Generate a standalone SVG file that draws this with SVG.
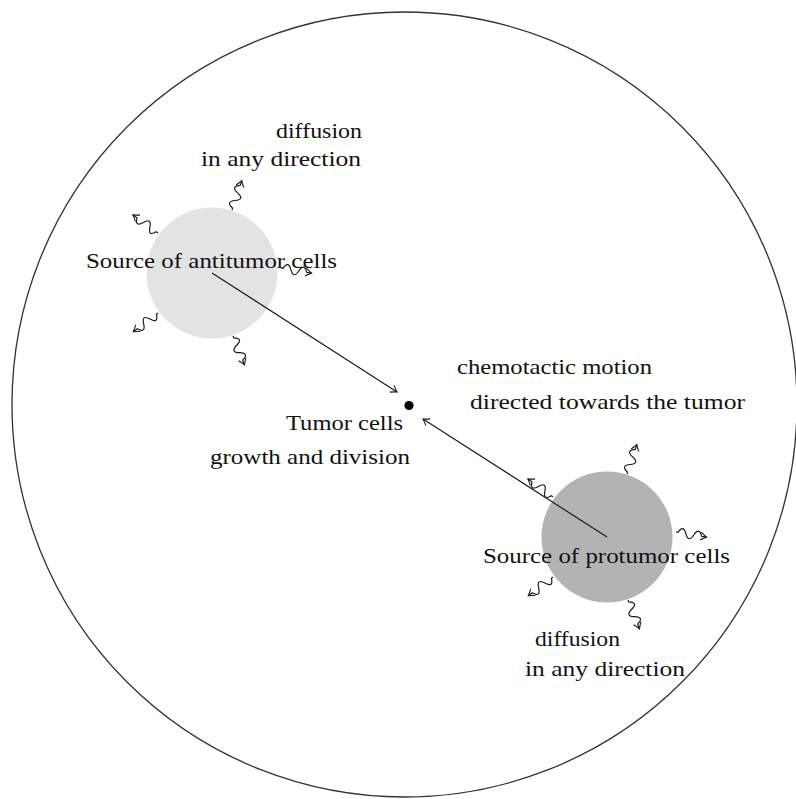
<svg xmlns="http://www.w3.org/2000/svg" xmlns:xlink="http://www.w3.org/1999/xlink" width="796" height="799" viewBox="0 0 796 799">
<style>
.lbl{font-family:"Liberation Serif","Times New Roman",serif;font-size:22px;fill:#111}
.ln{fill:none;stroke:#1a1a1a;stroke-width:1.2}
.sn{fill:none;stroke:#1a1a1a;stroke-width:1.2}
</style>
<defs>
<marker id="tip" viewBox="-7 -5 9 10" refX="0" refY="0" markerWidth="9" markerHeight="10" markerUnits="userSpaceOnUse" orient="auto" overflow="visible">
<path d="M-6,-4 Q-2,-1 0,0 Q-2,1 -6,4" fill="none" stroke="#1a1a1a" stroke-width="1.1"/>
</marker>
<path id="snake" class="sn" d="M0,0 L2,0 q4,-9 8,0 t8,0 t8,0 L31,0" marker-end="url(#tip)"/>
<g id="spray">
<use xlink:href="#snake" transform="translate(20,-63) rotate(-71.6)"/>
<use xlink:href="#snake" transform="translate(-54,-40) rotate(-144.2)"/>
<use xlink:href="#snake" transform="translate(69,-5) rotate(9.5)"/>
<use xlink:href="#snake" transform="translate(-54,40) rotate(142.8)"/>
<use xlink:href="#snake" transform="translate(21,63) rotate(68.2)"/>
</g>
</defs>
<rect width="796" height="799" fill="#ffffff"/>
<g id="domain">
<circle cx="404.5" cy="404.5" r="392.5" fill="none" stroke="#333" stroke-width="1.3"/>
</g>
<g id="antitumor">
<circle cx="212" cy="273" r="65.5" fill="#e3e3e3"/>
<use xlink:href="#spray" transform="translate(212,273)"/>
<text class="lbl" x="276" y="138" textLength="86" lengthAdjust="spacingAndGlyphs">diffusion</text>
<text class="lbl" x="201" y="166" textLength="160" lengthAdjust="spacingAndGlyphs">in any direction</text>
<text class="lbl" x="86" y="268" textLength="251" lengthAdjust="spacingAndGlyphs">Source of antitumor cells</text>
</g>
<g id="protumor">
<circle cx="607" cy="537" r="65.5" fill="#b3b3b3"/>
<use xlink:href="#spray" transform="translate(607,537)"/>
<text class="lbl" x="483" y="563" textLength="247" lengthAdjust="spacingAndGlyphs">Source of protumor cells</text>
<text class="lbl" x="535" y="646" textLength="85" lengthAdjust="spacingAndGlyphs">diffusion</text>
<text class="lbl" x="525" y="676" textLength="160" lengthAdjust="spacingAndGlyphs">in any direction</text>
</g>
<g id="tumor">
<circle cx="409" cy="405.5" r="4.6" fill="#000"/>
<text class="lbl" x="286" y="430" textLength="117" lengthAdjust="spacingAndGlyphs">Tumor cells</text>
<text class="lbl" x="210" y="464" textLength="200" lengthAdjust="spacingAndGlyphs">growth and division</text>
</g>
<g id="chemotaxis-label">
<text class="lbl" x="457" y="374" textLength="195" lengthAdjust="spacingAndGlyphs">chemotactic motion</text>
<text class="lbl" x="470" y="409" textLength="275" lengthAdjust="spacingAndGlyphs">directed towards the tumor</text>
</g>
<g id="connectors">
<line class="ln" x1="212" y1="273" x2="397" y2="392" marker-end="url(#tip)"/>
<line class="ln" x1="607" y1="537" x2="423" y2="419" marker-end="url(#tip)"/>
</g>
</svg>
